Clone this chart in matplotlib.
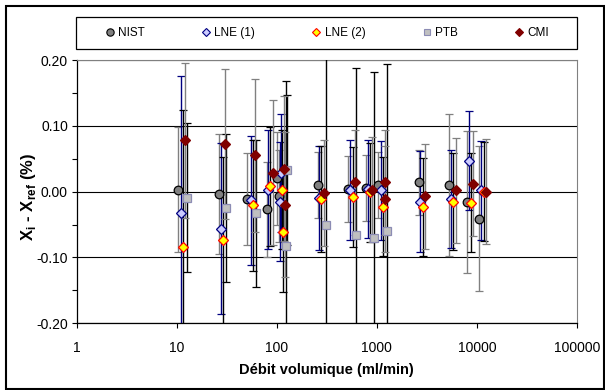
import matplotlib
matplotlib.use('Agg')
import matplotlib.pyplot as plt
from matplotlib.patches import Rectangle
from matplotlib.ticker import FixedLocator, NullLocator, MultipleLocator, FormatStrFormatter
from matplotlib.lines import Line2D

plt.rcParams['font.family'] = ['Liberation Sans', 'DejaVu Sans']
plt.rcParams['mathtext.fontset'] = 'custom'
plt.rcParams['mathtext.rm'] = 'Liberation Sans'
plt.rcParams['mathtext.bf'] = 'Liberation Sans:bold'

# flow (ml/min), deviation (%), expanded uncertainty (%) per lab
nist_x = [10.4, 26.2, 50.7, 79, 101, 104, 258, 510, 770, 1030, 2640, 5260, 7900, 10560]
nist_y = [0.003, -0.003, -0.011, -0.027, 0.020, -0.006, 0.010, 0.004, 0.005, 0.010, 0.014, 0.010, -0.016, -0.041]
nist_u = [0.095, 0.091, 0.070, 0.072, 0.070, 0.070, 0.050, 0.050, 0.050, 0.050, 0.050, 0.108, 0.108, 0.110]

lne1_x = [10.9, 27.7, 55.2, 82, 109, 107, 266, 540, 810, 1100, 2700, 5510, 8330, 11000]
lne1_y = [-0.033, -0.056, -0.013, 0.003, 0.028, -0.015, -0.009, 0.003, 0.004, 0.002, -0.015, -0.011, 0.047, 0.002]
lne1_u = [0.209, 0.130, 0.098, 0.090, 0.090, 0.090, 0.079, 0.076, 0.075, 0.075, 0.076, 0.074, 0.075, 0.075]

lne2_x = [11.5, 29, 58, 85, 112, 114, 276, 573, 854, 1160, 2910, 5800, 8730, 11770]
lne2_y = [-0.084, -0.074, -0.021, 0.008, 0.003, -0.062, -0.011, -0.008, -0.001, -0.023, -0.023, -0.015, -0.017, 0.000]
lne2_u = [0.208, 0.127, 0.100, 0.090, 0.090, 0.090, 0.080, 0.076, 0.075, 0.075, 0.074, 0.074, 0.075, 0.075]

ptb_x = [12.6, 30.8, 62, 126, 124, 310, 618, 930, 1250]
ptb_y = [-0.009, -0.025, -0.033, 0.033, -0.082, -0.051, -0.066, -0.071, -0.060]
ptb_u = [0.113, 0.113, 0.112, 0.114, 0.250, 0.254, 0.254, 0.253, 0.254]

cmi_x = [12.1, 30.5, 60, 91, 119, 121, 298, 604, 900, 1200, 1210, 3030, 6140, 9080, 12240]
cmi_y = [0.078, 0.072, 0.055, 0.029, 0.035, -0.020, -0.002, 0.014, 0.003, 0.014, -0.011, -0.007, 0.002, 0.012, 0.000]
cmi_u = [0.118, 0.114, 0.116, 0.110, 0.110, 0.110, 0.080, 0.080, 0.080, 0.080, 0.080, 0.080, 0.080, 0.080, 0.080]

x_ticks = [1, 10, 100, 1000, 10000, 100000]
x_tick_labels = ['1', '10', '100', '1000', '10000', '100000']

W, H = 605, 390
fig = plt.figure(figsize=(W / 100, H / 100), dpi=100)
ax = fig.add_axes([76.7 / W, 1 - 323.3 / H, (577 - 76.7) / W, (323.3 - 60) / H])

series = [
    ('NIST', nist_x, nist_y, nist_u, 'o', 6.2, '#808080', 'black', '#808080'),
    ('LNE (1)', lne1_x, lne1_y, lne1_u, 'D', 5.2, '#ccccff', '#000080', '#000080'),
    ('LNE (2)', lne2_x, lne2_y, lne2_u, 'D', 5.2, '#ffff00', '#ff0000', 'black'),
    ('PTB', ptb_x, ptb_y, ptb_u, 's', 5.8, '#c0c0c0', '#8c8cb4', 'black'),
    ('CMI', cmi_x, cmi_y, cmi_u, 'D', 5.2, '#800000', '#800000', '#808080'),
]

handles = []
for name, xs, ys, us, mk, ms, fc, ec, errc in series:
    ax.errorbar(xs, ys, yerr=us, fmt=mk, ms=ms, mfc=fc, mec=ec, mew=0.9,
                ecolor=errc, elinewidth=1.0, capsize=2.6, capthick=1.0, zorder=3)
    handles.append(Line2D([], [], ls='none', marker=mk, ms=ms * 0.85, mfc=fc, mec=ec, mew=0.8, label=name))

ax.set_xscale('log')
ax.set_xlim(1, 100000)
ax.set_ylim(-0.2, 0.2)
ax.xaxis.set_major_locator(FixedLocator(x_ticks))
ax.set_xticklabels(x_tick_labels)
ax.xaxis.set_minor_locator(NullLocator())
ax.yaxis.set_major_locator(MultipleLocator(0.1))
ax.yaxis.set_minor_locator(MultipleLocator(0.05))
ax.yaxis.set_major_formatter(FormatStrFormatter('%.2f'))
ax.tick_params(axis='both', which='both', direction='out', length=3.6, width=0.8, labelsize=10)
ax.tick_params(axis='y', pad=2.7)
ax.tick_params(axis='x', pad=9)

ax.yaxis.grid(True, which='major', color='black', lw=0.8)
ax.set_axisbelow(True)
for side in ['top', 'right']:
    ax.spines[side].set_color('#808080')
for side in ['left', 'bottom']:
    ax.spines[side].set_color('black')
    ax.spines[side].set_linewidth(0.9)

ax.set_xlabel('Débit volumique (ml/min)', fontsize=10.5, fontweight='bold', va='center')
ax.xaxis.set_label_coords(0.5, (323.3 - 370) / 263.3)
ax.set_ylabel(r'X$_{\mathbf{i}}$ - X$_{\mathbf{ref}}$ (%)', fontsize=12, fontweight='bold', va='center')
ax.yaxis.set_label_coords((29 - 76.7) / 500.3, 0.478)

# legend box on top
fig.patches.append(Rectangle((76 / W, 1 - 49.3 / H), (577 - 76) / W, (49.3 - 16.7) / H,
                             transform=fig.transFigure, fill=True, fc='white', ec='black', lw=0.9))
fig.legend(handles=handles, loc='center', ncol=5, mode='expand', frameon=False,
           bbox_to_anchor=(105 / W, 1 - 45 / H, (549 - 105) / W, 24 / H),
           fontsize=8.5, handlelength=0.8, handletextpad=0.3, borderpad=0, borderaxespad=0)

# chart border
fig.patches.append(Rectangle((6 / W, 1 / H), 598 / W, 383 / H, transform=fig.transFigure,
                             fill=False, ec='black', lw=1.5))

fig.savefig('out.png', dpi=100)
